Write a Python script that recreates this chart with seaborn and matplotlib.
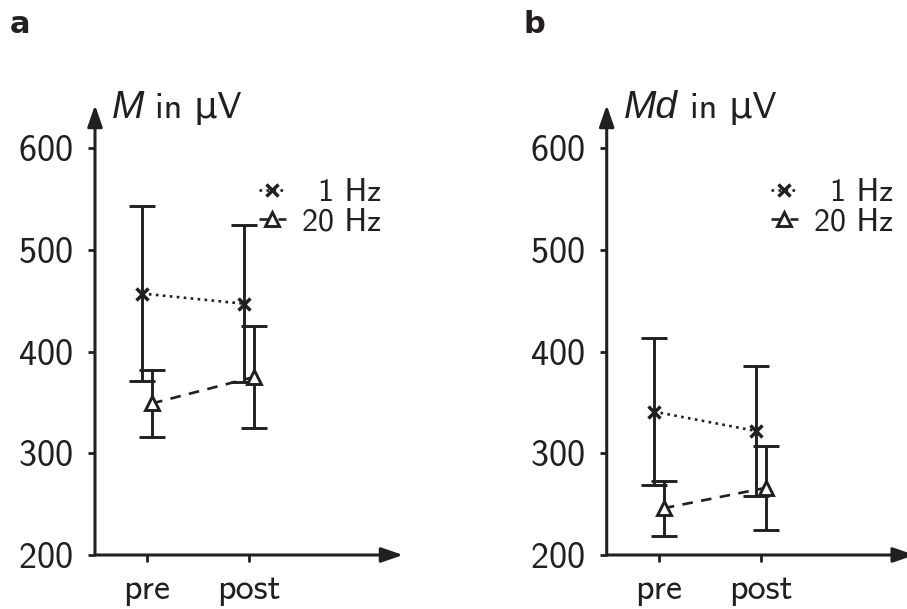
import numpy as np
import pandas as pd
import matplotlib
matplotlib.use("Agg")
import matplotlib.pyplot as plt
import seaborn as sns
from matplotlib.lines import Line2D

# ---------------- data ----------------
conditions = ["pre", "post"]
freq_labels = ["1 Hz", "20 Hz"]

m_1hz = [457, 447]
m_1hz_err = [86, 77]
m_20hz = [349, 375]
m_20hz_err = [33, 50]

md_1hz = [341, 322]
md_1hz_err = [72, 64]
md_20hz = [246, 266]
md_20hz_err = [27, 41]

y_ticks = [200, 300, 400, 500, 600]

# ---------------- style ----------------
sns.set_theme(style="ticks")
plt.rcParams["font.family"] = ["cmss10", "DejaVu Sans"]
plt.rcParams["axes.unicode_minus"] = False
plt.rcParams["axes.formatter.use_mathtext"] = True
INK = "#231f20"
DOT = ":"
DASH = (0, (4.0, 3.2))

fig = plt.figure(figsize=(9.07, 6.09), dpi=100)
W, H = 907, 609
ax1 = fig.add_axes([95 / W, 54 / H, 308 / W, 450 / H])
ax2 = fig.add_axes([606.7 / W, 54 / H, 308 / W, 450 / H])


def panel(ax, y1, e1, y20, e20, var_name, lbl_x, in_x):
    x = np.arange(len(conditions), dtype=float)
    off = 0.05
    df1 = pd.DataFrame({"x": x - off, "v": y1})
    df20 = pd.DataFrame({"x": x + off, "v": y20})

    eb = dict(fmt="none", ecolor=INK, elinewidth=2.1, capsize=9.3,
              capthick=2.1, zorder=2)
    ax.errorbar(df1["x"], df1["v"], yerr=e1, **eb)
    ax.errorbar(df20["x"], df20["v"], yerr=e20, **eb)

    sns.lineplot(data=df1, x="x", y="v", ax=ax, color=INK, linestyle=DOT,
                 lw=1.9, marker="x", markersize=8.5, mew=2.5, mec=INK,
                 zorder=3)
    sns.lineplot(data=df20, x="x", y="v", ax=ax, color=INK,
                 linestyle=DASH, lw=1.9, marker="^",
                 markersize=10.5, mew=2.1, mec=INK, mfc="white", zorder=3)

    ax.set_xlim(-0.51, 2.51)
    ax.set_ylim(200, 642.3)
    ax.set_xticks(x, conditions)
    ax.set_yticks(y_ticks)
    ax.set_xlabel("")
    ax.set_ylabel("")
    for s in ax.spines.values():
        s.set_visible(False)
    ax.tick_params(axis="both", direction="out", length=5, width=2.0,
                   colors=INK, labelsize=26, labelcolor=INK,
                   bottom=True, left=True)
    ax.tick_params(axis="y", pad=11)
    ax.tick_params(axis="x", pad=8)

    arrow = dict(arrowstyle="-|>,head_length=1.3,head_width=0.45",
                 color=INK, lw=2.2, shrinkA=0, shrinkB=0, mutation_scale=10)
    ax.annotate("", xy=(1, 0), xytext=(0, 0), xycoords="axes fraction",
                arrowprops=arrow, annotation_clip=False)
    ax.annotate("", xy=(0, 1), xytext=(0, 0), xycoords="axes fraction",
                arrowprops=arrow, annotation_clip=False)

    ax.text(lbl_x, 0.971, var_name, transform=ax.transAxes, fontsize=28,
            fontstyle="italic", family="Liberation Sans", color=INK,
            va="baseline", ha="left")
    ax.text(in_x, 0.971, "in μV", transform=ax.transAxes, fontsize=26,
            color=INK, va="baseline", ha="left")

    handles = [
        Line2D([], [], color=INK, linestyle=DOT, lw=1.9, marker="x",
               markersize=8.5, mew=2.5),
        Line2D([], [], color=INK, linestyle=DASH, lw=1.9,
               marker="^", markersize=10.5, mew=2.1, mfc="white"),
    ]
    labels = ["\u2002" + freq_labels[0], freq_labels[1]]
    leg = ax.legend(handles, labels, loc="upper right",
                    bbox_to_anchor=(0.929, 0.837), frameon=False,
                    fontsize=23, handlelength=0.85, handletextpad=0.5,
                    borderaxespad=0, borderpad=0, labelspacing=0.0)
    for t in leg.get_texts():
        t.set_color(INK)


panel(ax1, m_1hz, m_1hz_err, m_20hz, m_20hz_err, "M", 0.055, 0.195)
panel(ax2, md_1hz, md_1hz_err, md_20hz, md_20hz_err, "Md", 0.055, 0.27)

fig.text(10 / W, 1 - 33 / H, "a", fontsize=22, fontweight="bold",
         family="DejaVu Sans", color=INK, va="baseline")
fig.text(524 / W, 1 - 33 / H, "b", fontsize=22, fontweight="bold",
         family="DejaVu Sans", color=INK, va="baseline")

fig.savefig("out.png", dpi=100)
